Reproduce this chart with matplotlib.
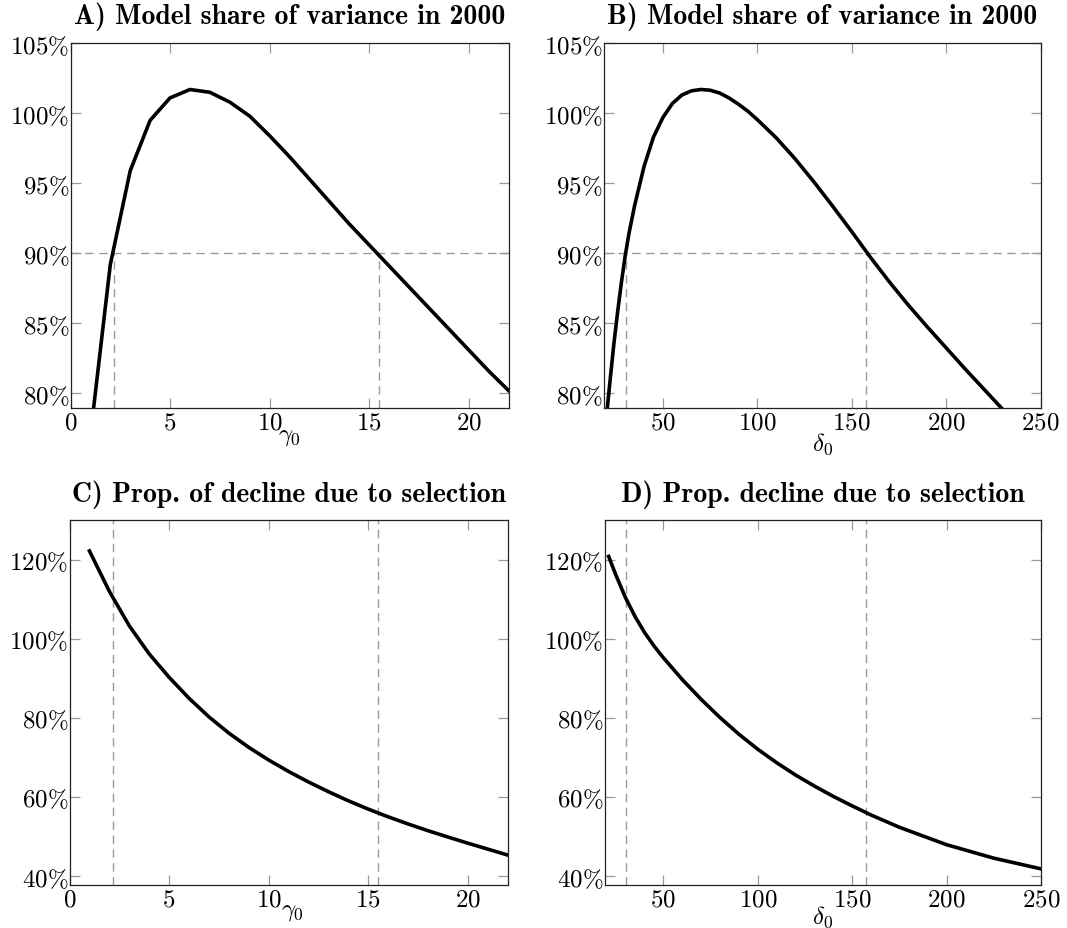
import numpy as np
import matplotlib
matplotlib.use('Agg')
import matplotlib.pyplot as plt

plt.rcParams['mathtext.fontset'] = 'cm'
plt.rcParams['font.family'] = 'serif'
plt.rcParams['font.serif'] = ['DejaVu Serif']
plt.rcParams['axes.unicode_minus'] = False

# panel A: model share of variance vs gamma_0 (%)
gammaA = [1, 2, 3, 4, 5, 6, 7, 8, 9, 10, 11, 12, 13, 14, 15, 16, 17, 18, 19, 20, 21, 22]
shareA = [77.0, 89.2, 95.9, 99.5, 101.1, 101.7, 101.5, 100.8, 99.8, 98.4, 96.9, 95.3,
          93.7, 92.1, 90.6, 89.1, 87.6, 86.1, 84.6, 83.1, 81.6, 80.2]

# panel B: model share of variance vs delta_0 (%)
deltaB = [20, 22, 24, 26, 28, 30, 32, 35, 40, 45, 50, 55, 60, 65, 70, 75, 80, 85, 90, 95,
          100, 110, 120, 130, 140, 150, 160, 170, 180, 190, 200, 210, 220, 230]
shareB = [78.2, 80.9, 83.5, 85.8, 87.9, 89.8, 91.4, 93.4, 96.2, 98.3, 99.7, 100.7, 101.3,
          101.6, 101.7, 101.65, 101.45, 101.1, 100.65, 100.15, 99.55, 98.25, 96.75, 95.1,
          93.35, 91.55, 89.7, 87.95, 86.3, 84.75, 83.25, 81.75, 80.3, 78.85]

# panel C: proportion of decline due to selection vs gamma_0 (%)
gammaC = [1, 2, 3, 4, 5, 6, 7, 8, 9, 10, 11, 12, 13, 14, 15, 16, 17, 18, 19, 20, 21, 22]
propC = [122.2, 112.0, 103.3, 96.2, 90.3, 85.0, 80.3, 76.2, 72.6, 69.4, 66.5, 63.85,
         61.4, 59.1, 57.0, 55.05, 53.25, 51.55, 49.95, 48.4, 46.9, 45.4]

# panel D: proportion of decline due to selection vs delta_0 (%)
deltaD = [21, 25, 30, 35, 40, 45, 50, 60, 70, 80, 90, 100, 110, 120, 130, 140, 150,
          160, 175, 200, 225, 250]
propD = [120.8, 115.9, 110.3, 105.6, 101.6, 98.2, 95.2, 89.7, 84.7, 80.1, 75.9, 72.1,
         68.7, 65.6, 62.8, 60.2, 57.8, 55.5, 52.4, 48.0, 44.6, 41.9]

gamma_cut = [2.2, 15.5]
delta_cut = [30.3, 157.4]

titles = ['A) Model share of variance in 2000', 'B) Model share of variance in 2000',
          'C) Prop. of decline due to selection', 'D) Prop. decline due to selection']
ytA = [80, 85, 90, 95, 100, 105]
ytC = [40, 60, 80, 100, 120]
xt_gamma = [0, 5, 10, 15, 20]
xt_delta = [50, 100, 150, 200, 250]

fig = plt.figure(figsize=(10.67, 9.29), dpi=100)
W, H = 1067.0, 929.0
boxes = [(70.5, 508.5, 44.3, 409), (604, 1040.5, 44.3, 409),
         (69.5, 507.5, 521, 885.7), (604.5, 1041, 521, 885.7)]
axes = []
for (l, r, t, b) in boxes:
    axes.append(fig.add_axes([l / W, 1 - b / H, (r - l) / W, (b - t) / H]))

def pct(v):
    return [r'$%d\%%$' % x for x in v]

dash = dict(color='#999999', lw=1.0, ls=(0, (6, 4)))

for i, ax in enumerate(axes):
    ax.tick_params(direction='in', length=7, width=0.9, color='#999999',
                   top=True, right=True, labelsize=18)
    ax.tick_params(axis='x', pad=2)
    ax.tick_params(axis='y', pad=1)
    for s in ax.spines.values():
        s.set_linewidth(0.9)
        s.set_color('#222222')
    ax.set_title(titles[i], fontsize=20, fontfamily='cmb10',
                 pad=14.5 if i < 2 else 14)

# A
ax = axes[0]
ax.set_xlim(0, 22)
ax.set_ylim(78.95, 105)
ax.axhline(90, **dash)
for g in gamma_cut:
    ax.plot([g, g], [78.95, 90], **dash)
ax.plot(gammaA, shareA, color='black', lw=2.6, solid_joinstyle='round')
ax.set_xticks(xt_gamma, [r'$%d$' % x for x in xt_gamma])
ax.set_yticks(ytA, pct(ytA))
ax.text(0.5, -0.045, r'$\gamma_0$', transform=ax.transAxes, ha='center', va='top', fontsize=18)

# B
ax = axes[1]
ax.set_xlim(18.8, 250)
ax.set_ylim(78.95, 105)
ax.axhline(90, **dash)
for d in delta_cut:
    ax.plot([d, d], [78.95, 90], **dash)
ax.plot(deltaB, shareB, color='black', lw=2.6, solid_joinstyle='round')
ax.set_xticks(xt_delta, [r'$%d$' % x for x in xt_delta])
ax.set_yticks(ytA, pct(ytA))
ax.text(0.5, -0.062, r'$\delta_0$', transform=ax.transAxes, ha='center', va='top', fontsize=18)

# C
ax = axes[2]
ax.set_xlim(0, 22)
ax.set_ylim(37.9, 130)
for g in gamma_cut:
    ax.axvline(g, **dash)
ax.plot(gammaC, propC, color='black', lw=2.6, solid_joinstyle='round')
ax.set_xticks(xt_gamma, [r'$%d$' % x for x in xt_gamma])
ax.set_yticks(ytC, pct(ytC))
ax.text(0.51, -0.04, r'$\gamma_0$', transform=ax.transAxes, ha='center', va='top', fontsize=18)

# D
ax = axes[3]
ax.set_xlim(18.8, 250)
ax.set_ylim(37.9, 130)
for d in delta_cut:
    ax.axvline(d, **dash)
ax.plot(deltaD, propD, color='black', lw=2.6, solid_joinstyle='round')
ax.set_xticks(xt_delta, [r'$%d$' % x for x in xt_delta])
ax.set_yticks(ytC, pct(ytC))
ax.text(0.5, -0.052, r'$\delta_0$', transform=ax.transAxes, ha='center', va='top', fontsize=18)

fig.savefig('out.png', dpi=100)
